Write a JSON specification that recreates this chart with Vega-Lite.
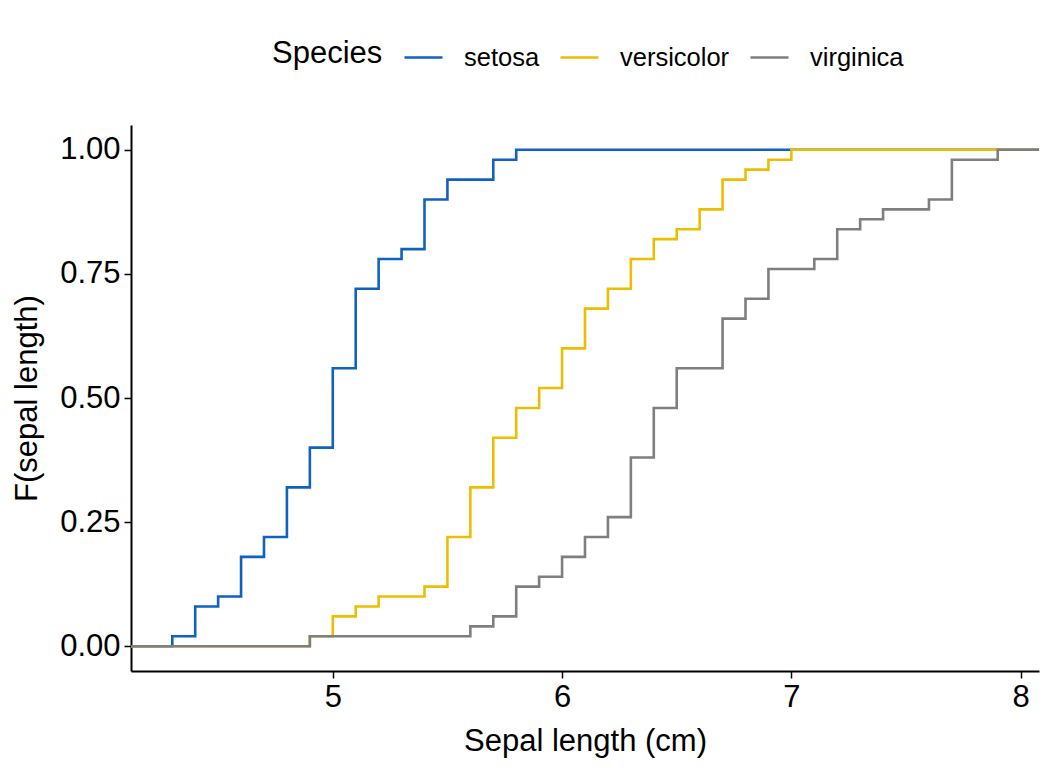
{
  "$schema": "https://vega.github.io/schema/vega-lite/v6.json",
  "width": 908,
  "height": 546,
  "autosize": "none",
  "padding": {"left": 131, "top": 125, "right": 17, "bottom": 97},
  "background": "white",
  "config": {
    "view": {"stroke": null},
    "font": "Liberation Sans",
    "axis": {
      "grid": false,
      "domainColor": "black",
      "domainWidth": 2,
      "tickColor": "black",
      "tickWidth": 1.5,
      "tickSize": 7,
      "labelColor": "black",
      "labelFontSize": 31,
      "titleFontSize": 31,
      "titleFontWeight": "normal",
      "titleColor": "black",
      "labelPadding": 4
    }
  },
  "data": {"values": [
    {"species": "setosa", "x": 4.12, "F": 0},
    {"species": "setosa", "x": 4.3, "F": 0.02},
    {"species": "setosa", "x": 4.4, "F": 0.08},
    {"species": "setosa", "x": 4.5, "F": 0.10},
    {"species": "setosa", "x": 4.6, "F": 0.18},
    {"species": "setosa", "x": 4.7, "F": 0.22},
    {"species": "setosa", "x": 4.8, "F": 0.32},
    {"species": "setosa", "x": 4.9, "F": 0.40},
    {"species": "setosa", "x": 5.0, "F": 0.56},
    {"species": "setosa", "x": 5.1, "F": 0.72},
    {"species": "setosa", "x": 5.2, "F": 0.78},
    {"species": "setosa", "x": 5.3, "F": 0.80},
    {"species": "setosa", "x": 5.4, "F": 0.90},
    {"species": "setosa", "x": 5.5, "F": 0.94},
    {"species": "setosa", "x": 5.7, "F": 0.98},
    {"species": "setosa", "x": 5.8, "F": 1.00},
    {"species": "setosa", "x": 8.08, "F": 1.00},
    {"species": "versicolor", "x": 4.12, "F": 0},
    {"species": "versicolor", "x": 4.9, "F": 0.02},
    {"species": "versicolor", "x": 5.0, "F": 0.06},
    {"species": "versicolor", "x": 5.1, "F": 0.08},
    {"species": "versicolor", "x": 5.2, "F": 0.10},
    {"species": "versicolor", "x": 5.4, "F": 0.12},
    {"species": "versicolor", "x": 5.5, "F": 0.22},
    {"species": "versicolor", "x": 5.6, "F": 0.32},
    {"species": "versicolor", "x": 5.7, "F": 0.42},
    {"species": "versicolor", "x": 5.8, "F": 0.48},
    {"species": "versicolor", "x": 5.9, "F": 0.52},
    {"species": "versicolor", "x": 6.0, "F": 0.60},
    {"species": "versicolor", "x": 6.1, "F": 0.68},
    {"species": "versicolor", "x": 6.2, "F": 0.72},
    {"species": "versicolor", "x": 6.3, "F": 0.78},
    {"species": "versicolor", "x": 6.4, "F": 0.82},
    {"species": "versicolor", "x": 6.5, "F": 0.84},
    {"species": "versicolor", "x": 6.6, "F": 0.88},
    {"species": "versicolor", "x": 6.7, "F": 0.94},
    {"species": "versicolor", "x": 6.8, "F": 0.96},
    {"species": "versicolor", "x": 6.9, "F": 0.98},
    {"species": "versicolor", "x": 7.0, "F": 1.00},
    {"species": "versicolor", "x": 8.08, "F": 1.00},
    {"species": "virginica", "x": 4.12, "F": 0},
    {"species": "virginica", "x": 4.9, "F": 0.02},
    {"species": "virginica", "x": 5.6, "F": 0.04},
    {"species": "virginica", "x": 5.7, "F": 0.06},
    {"species": "virginica", "x": 5.8, "F": 0.12},
    {"species": "virginica", "x": 5.9, "F": 0.14},
    {"species": "virginica", "x": 6.0, "F": 0.18},
    {"species": "virginica", "x": 6.1, "F": 0.22},
    {"species": "virginica", "x": 6.2, "F": 0.26},
    {"species": "virginica", "x": 6.3, "F": 0.38},
    {"species": "virginica", "x": 6.4, "F": 0.48},
    {"species": "virginica", "x": 6.5, "F": 0.56},
    {"species": "virginica", "x": 6.7, "F": 0.66},
    {"species": "virginica", "x": 6.8, "F": 0.70},
    {"species": "virginica", "x": 6.9, "F": 0.76},
    {"species": "virginica", "x": 7.1, "F": 0.78},
    {"species": "virginica", "x": 7.2, "F": 0.84},
    {"species": "virginica", "x": 7.3, "F": 0.86},
    {"species": "virginica", "x": 7.4, "F": 0.88},
    {"species": "virginica", "x": 7.6, "F": 0.90},
    {"species": "virginica", "x": 7.7, "F": 0.98},
    {"species": "virginica", "x": 7.9, "F": 1.00},
    {"species": "virginica", "x": 8.08, "F": 1.00}
  ]},
  "mark": {"type": "line", "interpolate": "step-after", "strokeWidth": 2.6, "clip": true},
  "encoding": {
    "x": {
      "field": "x", "type": "quantitative",
      "scale": {"domain": [4.12, 8.08], "nice": false, "zero": false},
      "axis": {"values": [5, 6, 7, 8], "title": "Sepal length (cm)", "titlePadding": 14}
    },
    "y": {
      "field": "F", "type": "quantitative",
      "scale": {"domain": [-0.05, 1.05], "nice": false},
      "axis": {"values": [0, 0.25, 0.5, 0.75, 1], "format": ".2f", "title": "F(sepal length)", "titlePadding": 16}
    },
    "color": {
      "field": "species", "type": "nominal",
      "scale": {"domain": ["setosa", "versicolor", "virginica"], "range": ["#1062C0", "#EDBE00", "#7F7F7F"]},
      "legend": {
        "title": "Species",
        "orient": "none",
        "direction": "horizontal",
        "legendX": 141,
        "legendY": -88,
        "titleOrient": "left",
        "titleAnchor": "middle",
        "titleBaseline": "middle",
        "titleFontSize": 31,
        "titleFontWeight": "normal",
        "titleColor": "black",
        "titlePadding": 20,
        "labelFontSize": 25.5,
        "labelColor": "black",
        "symbolType": "stroke",
        "symbolStrokeWidth": 2.6,
        "symbolSize": 1444,
        "labelOffset": 20,
        "columnPadding": 15
      }
    },
    "order": {"field": "x", "type": "quantitative"}
  }
}
